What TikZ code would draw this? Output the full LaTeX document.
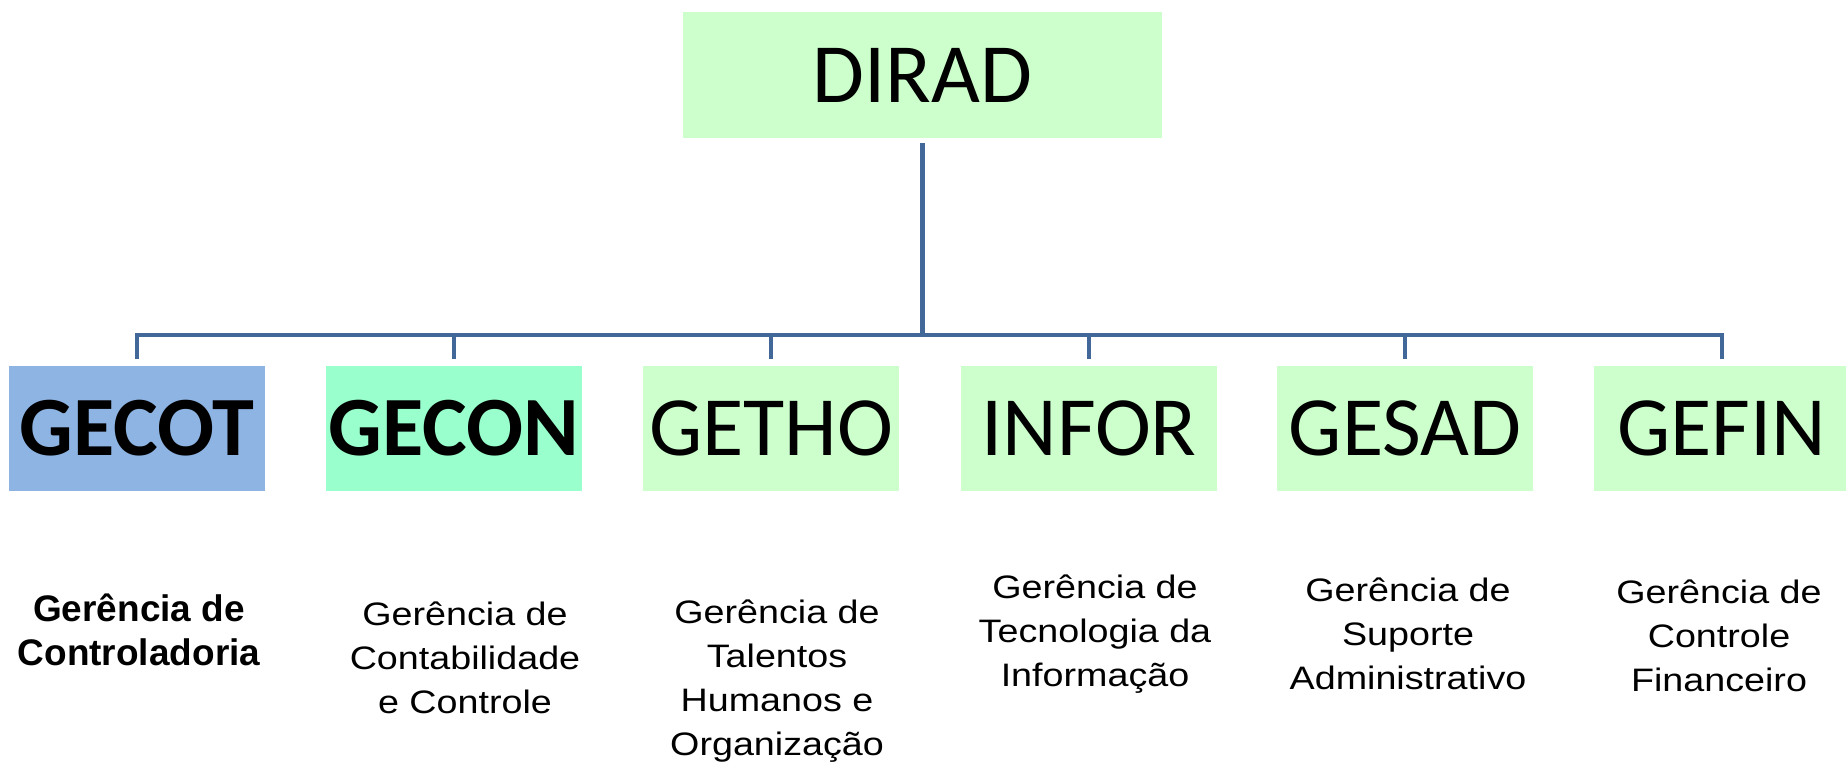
\documentclass[tikz,border=0pt]{standalone}
\usepackage{fontspec}
\setmainfont{Liberation Sans}
\newfontfamily\boxfont{Carlito}
\newfontfamily\descfont[FakeStretch=1.16]{Liberation Sans}
\usetikzlibrary{positioning}
\definecolor{dirGreen}{RGB}{204,255,204}
\definecolor{gecotBlue}{RGB}{142,180,227}
\definecolor{geconMint}{RGB}{153,255,204}
\definecolor{linkBlue}{RGB}{66,104,154}

\begin{document}
\begin{tikzpicture}[
    x=0.025cm, y=-0.025cm,
    unitbox/.style={rectangle, fill=dirGreen, inner sep=0pt, minimum width=6.4cm, minimum height=3.125cm, font=\boxfont\fontsize{60}{60}\selectfont},
    headbox/.style={unitbox, minimum width=11.975cm, minimum height=3.15cm},
    desc/.style={align=center, font=\descfont\fontsize{23.1}{31.3}\selectfont},
    link/.style={draw=linkBlue, line width=3.5pt, shorten <=3.5pt, shorten >=5pt}
]
\useasboundingbox (0,0) rectangle (1846,766);

\node[headbox] (dirad) at (922.5,75) {DIRAD};
\coordinate (bus) at (922.5,335);

\node[unitbox, fill=gecotBlue, font=\boxfont\bfseries\fontsize{60}{60}\selectfont] (gecot) at (137,428.5) {GECOT};
\node[unitbox, fill=geconMint, font=\boxfont\bfseries\fontsize{60}{60}\selectfont] (gecon) at (454,428.5) {GECON};
\node[unitbox] (getho) at (771,428.5) {GETHO};
\node[unitbox] (infor) at (1089,428.5) {INFOR};
\node[unitbox] (gesad) at (1405,428.5) {GESAD};
\node[unitbox] (gefin) at (1722,428.5) {GEFIN};

\draw[link] (dirad.south) -- (bus) -| (gecot.north);
\draw[link] (dirad.south) -- (bus) -| (gecon.north);
\draw[link] (dirad.south) -- (bus) -| (getho.north);
\draw[link] (dirad.south) -- (bus) -| (infor.north);
\draw[link] (dirad.south) -- (bus) -| (gesad.north);
\draw[link] (dirad.south) -- (bus) -| (gefin.north);

% descriptions
\node[desc, font=\bfseries\fontsize{26.3}{31.3}\selectfont] (gecotdesc) at (139,630) {Gerência de\\Controladoria};
\node[desc] (gecondesc) at (465,658) {Gerência de\\Contabilidade\\e Controle};
\node[desc] (gethodesc) at (777,681) {Gerência de\\Talentos\\Humanos e\\Organização};
\node[desc] (infordesc) at (1095,634) {Gerência de\\Tecnologia da\\Informação};
\node[desc] (gesaddesc) at (1408,634) {Gerência de\\Suporte\\Administrativo};
\node[desc] (gefindesc) at (1719,636) {Gerência de\\Controle\\Financeiro};

\end{tikzpicture}
\end{document}
